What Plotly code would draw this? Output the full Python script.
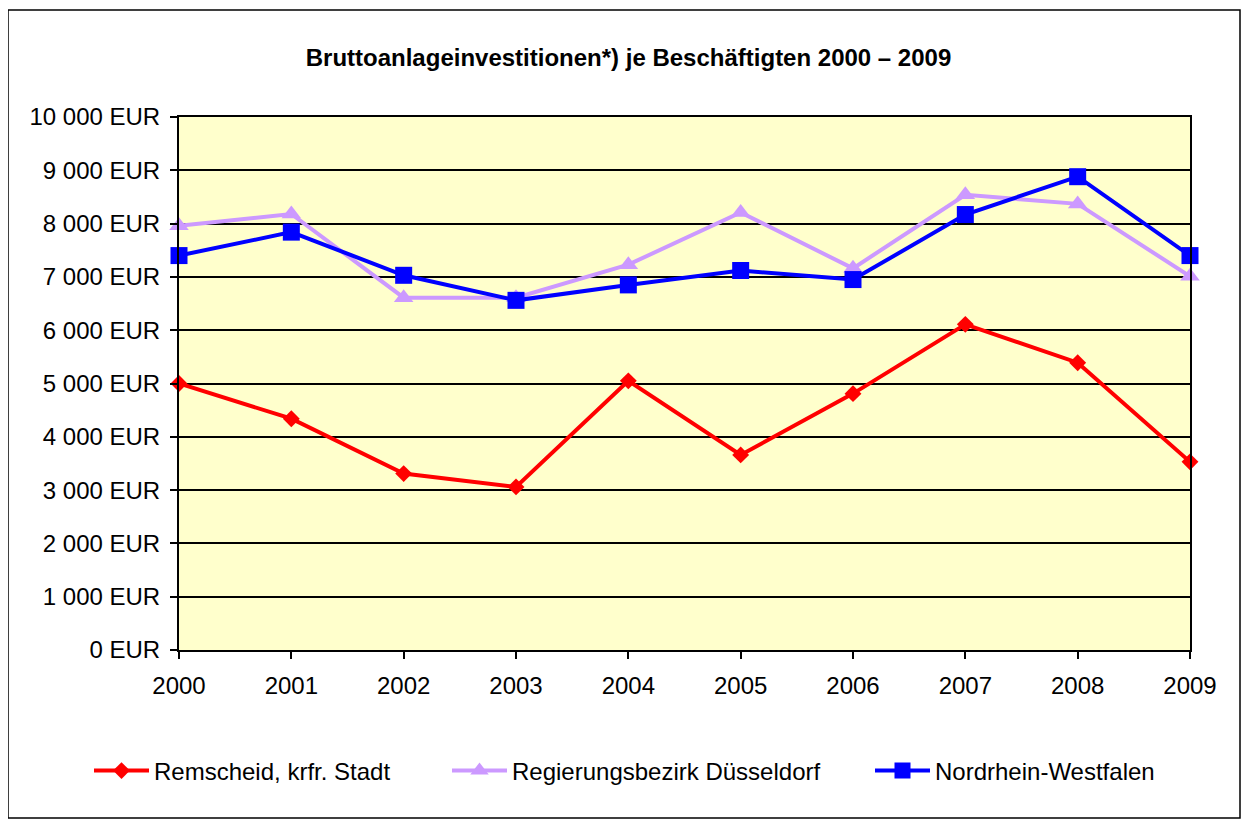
import plotly.graph_objects as go

years = [2000, 2001, 2002, 2003, 2004, 2005, 2006, 2007, 2008, 2009]
remscheid = [5000, 4340, 3310, 3060, 5050, 3660, 4810, 6110, 5390, 3530]
duesseldorf = [7960, 8180, 6610, 6610, 7230, 8210, 7160, 8540, 8370, 7010]
nrw = [7400, 7840, 7030, 6560, 6850, 7120, 6950, 8170, 8880, 7400]

ytick_vals = [0, 1000, 2000, 3000, 4000, 5000, 6000, 7000, 8000, 9000, 10000]
ytick_text = ["0 EUR", "1 000 EUR", "2 000 EUR", "3 000 EUR", "4 000 EUR", "5 000 EUR",
              "6 000 EUR", "7 000 EUR", "8 000 EUR", "9 000 EUR", "10 000 EUR"]

series_names = ["Remscheid, krfr. Stadt", "Regierungsbezirk Düsseldorf", "Nordrhein-Westfalen"]

FONT = "Arial, Liberation Sans, sans-serif"

# page body has an 8px margin; figure coords = screen coords - 8
OFF = 8
PL, PR, PT, PB = 179, 1190, 117, 650  # plot area in screen px
PW, PH = PR - PL, PB - PT


def px(X):
    return (X - PL) / PW


def py(Y):
    return (PB - Y) / PH


fig = go.Figure()
fig.add_trace(go.Scatter(x=years, y=remscheid, name=series_names[0], mode="lines+markers",
                         line=dict(color="#FF0000", width=4),
                         marker=dict(symbol="diamond", size=13, color="#FF0000"),
                         cliponaxis=False, legend="legend"))
fig.add_trace(go.Scatter(x=years, y=duesseldorf, name=series_names[1], mode="lines+markers",
                         line=dict(color="#CC99FF", width=4),
                         marker=dict(symbol="triangle-up", size=17, color="#CC99FF"),
                         cliponaxis=False, legend="legend2"))
fig.add_trace(go.Scatter(x=years, y=nrw, name=series_names[2], mode="lines+markers",
                         line=dict(color="#0000FF", width=4),
                         marker=dict(symbol="square", size=17, color="#0000FF"),
                         cliponaxis=False, legend="legend3"))

leg_common = dict(orientation="h", yanchor="middle", xanchor="left",
                  font=dict(family=FONT, size=24, color="black"),
                  bgcolor="rgba(0,0,0,0)", borderwidth=0, itemwidth=55)

fig.update_layout(
    width=1249, height=827,
    margin=dict(l=PL - OFF, r=1249 - (PR - OFF), t=PT - OFF, b=827 - (PB - OFF)),
    paper_bgcolor="white",
    plot_bgcolor="#FFFFCC",
    font=dict(family=FONT, size=24, color="black"),
    title=dict(text="<b>Bruttoanlageinvestitionen*) je Beschäftigten 2000 – 2009</b>",
               x=(628.5 - OFF) / 1249, xref="container", xanchor="center",
               y=1 - (58 - OFF) / 827, yref="container", yanchor="middle",
               font=dict(family=FONT, size=24, color="black")),
    showlegend=True,
    legend=dict(x=px(95 - 6), y=py(771), **leg_common),
    legend2=dict(x=px(455 - 8), y=py(771), **leg_common),
    legend3=dict(x=px(875 - 5), y=py(771), **leg_common),
    xaxis=dict(range=[2000, 2009], tickvals=years, ticktext=[str(y) for y in years],
               showgrid=False, zeroline=False, showline=True, linecolor="black", linewidth=2,
               mirror=True, ticks="outside", ticklen=7, tickwidth=2, tickcolor="black",
               ticklabelstandoff=6,
               tickfont=dict(family=FONT, size=24)),
    yaxis=dict(range=[0, 10000], tickvals=ytick_vals, ticktext=ytick_text,
               showgrid=True, gridcolor="black", gridwidth=2, zeroline=False,
               showline=True, linecolor="black", linewidth=2, mirror=True,
               ticks="outside", ticklen=7, tickwidth=2, tickcolor="black",
               ticklabelstandoff=5,
               tickfont=dict(family=FONT, size=24)),
    shapes=[dict(type="rect", xref="paper", yref="paper",
                 x0=px(8), x1=px(1240), y0=py(818), y1=py(10),
                 line=dict(color="black", width=1.5), fillcolor="rgba(0,0,0,0)", layer="below")],
)

fig.write_html("out.html")
